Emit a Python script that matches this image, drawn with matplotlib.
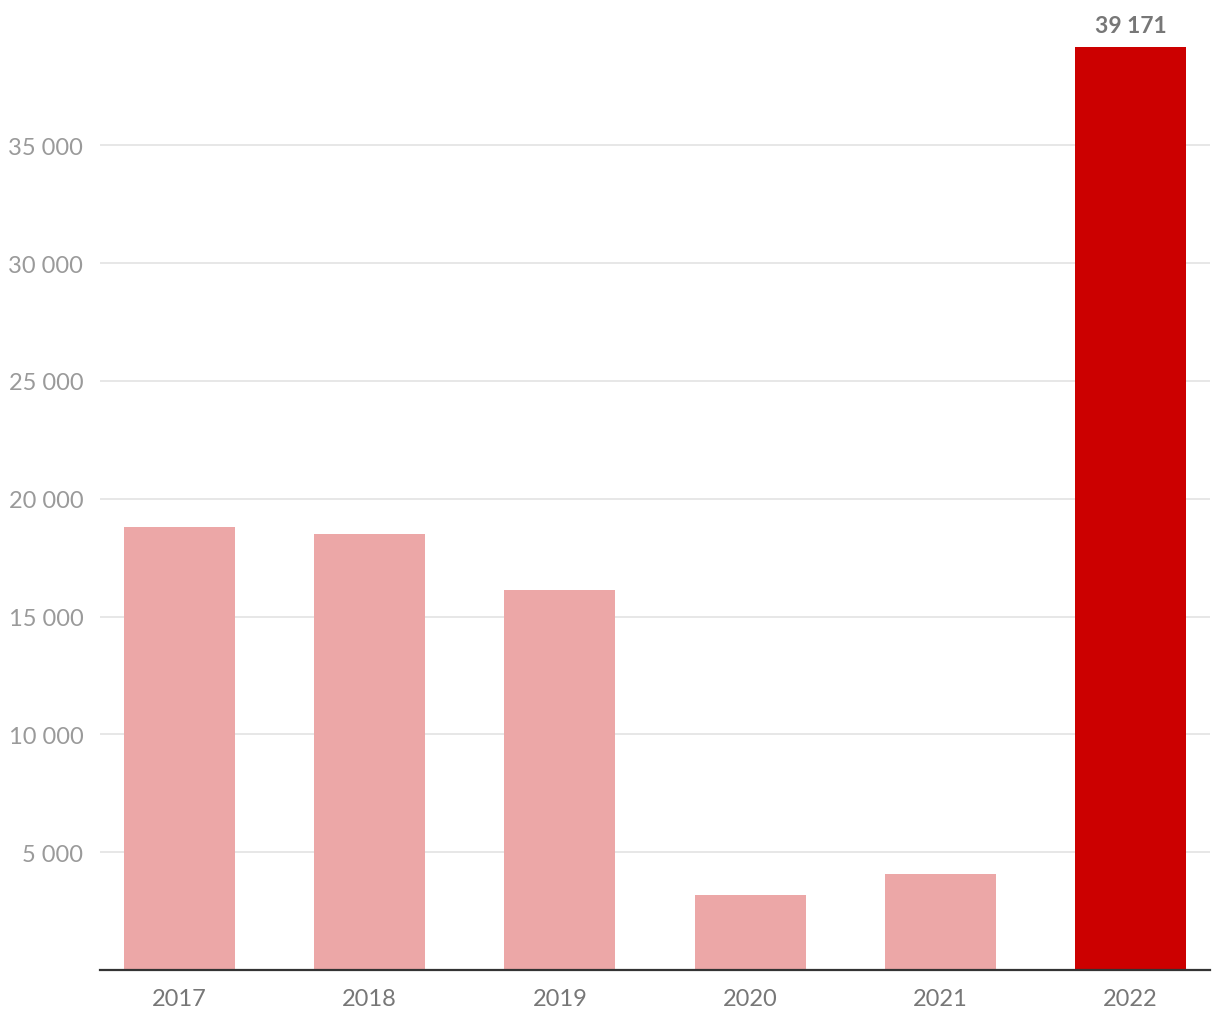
import matplotlib
matplotlib.use('Agg')
import matplotlib.pyplot as plt
from matplotlib.ticker import FuncFormatter

plt.rcParams['font.family'] = ['Lato', 'DejaVu Sans']

years = ['2017', '2018', '2019', '2020', '2021', '2022']
values = [18820, 18520, 16140, 3190, 4080, 39171]
colors = ['#eca7a7'] * 5 + ['#cc0000']

fig = plt.figure(figsize=(12.2, 10.2), dpi=100)
ax = fig.add_axes([100 / 1220, 49 / 1020, 1110 / 1220, 966 / 1020])

x = range(len(years))
ax.bar(x, values, width=0.584, color=colors, zorder=2)

ax.set_xlim(-0.418, 5.418)
ax.set_ylim(0, 41000)
ax.set_yticks(range(5000, 40000, 5000))
ax.yaxis.set_major_formatter(FuncFormatter(lambda v, p: f'{int(v):,}'.replace(',', ' ')))
ax.set_xticks(list(x))
ax.set_xticklabels(years)

ax.grid(axis='y', color='#e3e3e3', linewidth=1.2, zorder=0)
for s in ['top', 'right', 'left']:
    ax.spines[s].set_visible(False)
ax.spines['bottom'].set_color('#333333')
ax.spines['bottom'].set_linewidth(1.6)

ax.tick_params(axis='y', length=0, pad=12, labelsize=17, labelcolor='#9a9a9a')
ax.tick_params(axis='x', length=0, pad=13, labelsize=17, labelcolor='#777777')

ax.text(5, values[5] + 450, '39 171', ha='center', va='bottom',
        fontsize=16.5, fontweight='bold', color='#777777')

fig.savefig('out.png', dpi=100)
